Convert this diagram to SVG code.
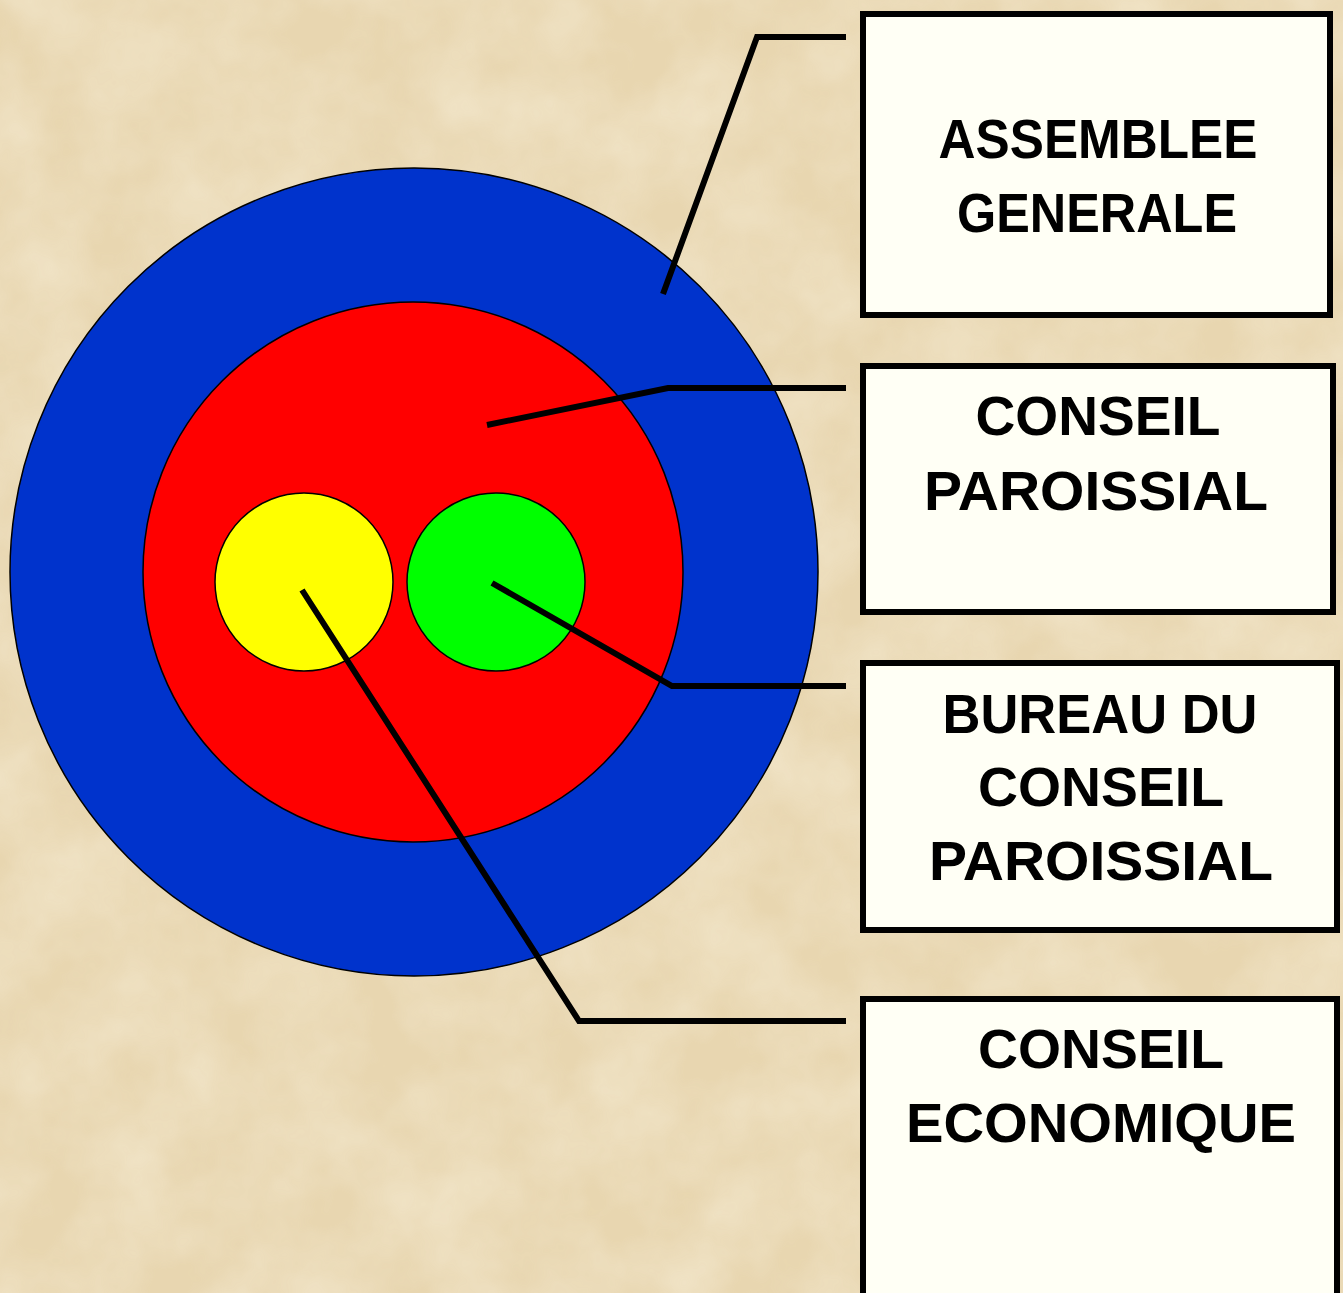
<svg xmlns="http://www.w3.org/2000/svg" width="1343" height="1293" viewBox="0 0 1343 1293">
<defs>
<style>
.box{fill:#FFFFF5;stroke:#000;stroke-width:6}
.lbl{font-family:"Liberation Sans","DejaVu Sans",sans-serif;font-weight:bold;font-size:55px;fill:#000;text-anchor:middle}
.con{fill:none;stroke:#000;stroke-width:6}
.ring{stroke:#000;stroke-width:1.5}
</style>
<filter id="paper" x="0" y="0" width="100%" height="100%">
<feTurbulence type="fractalNoise" baseFrequency="0.012" numOctaves="4" seed="7"/>
<feColorMatrix type="matrix" values="0 0 0 0 0.98  0 0 0 0 0.93  0 0 0 0 0.80  0 0 0 0.9 -0.25"/>
</filter>
</defs>
<rect width="1343" height="1293" fill="#E8D6B0"/>
<rect width="1343" height="1293" filter="url(#paper)" opacity="0.7"/>

<g id="target">
<circle class="ring" cx="414" cy="572" r="404" fill="#0033CC"/>
<circle class="ring" cx="413" cy="572" r="270" fill="#FF0000"/>
<circle class="ring" cx="304" cy="582" r="89" fill="#FFFF00"/>
<circle class="ring" cx="496" cy="582" r="89" fill="#00FF00"/>
</g>

<g id="connectors">
<polyline class="con" points="663,294 757,37 846,37"/>
<polyline class="con" points="487,425 668,388 846,388"/>
<polyline class="con" points="492,583 672,686 846,686"/>
<polyline class="con" points="302,590 579,1021 846,1021"/>
</g>

<g id="assemblee-generale">
<rect class="box" x="863" y="14" width="467" height="301"/>
<text class="lbl" x="1098" y="158" textLength="319" lengthAdjust="spacingAndGlyphs">ASSEMBLEE</text>
<text class="lbl" x="1097" y="232" textLength="280" lengthAdjust="spacingAndGlyphs">GENERALE</text>
</g>

<g id="conseil-paroissial">
<rect class="box" x="863" y="366" width="470" height="246"/>
<text class="lbl" x="1098" y="435" textLength="245" lengthAdjust="spacingAndGlyphs">CONSEIL</text>
<text class="lbl" x="1096" y="510" textLength="344" lengthAdjust="spacingAndGlyphs">PAROISSIAL</text>
</g>

<g id="bureau-conseil-paroissial">
<rect class="box" x="863" y="663" width="474" height="267"/>
<text class="lbl" x="1100" y="733" textLength="315" lengthAdjust="spacingAndGlyphs">BUREAU DU</text>
<text class="lbl" x="1101" y="806" textLength="246" lengthAdjust="spacingAndGlyphs">CONSEIL</text>
<text class="lbl" x="1101" y="880" textLength="344" lengthAdjust="spacingAndGlyphs">PAROISSIAL</text>
</g>

<g id="conseil-economique">
<rect class="box" x="863" y="999" width="474" height="320"/>
<text class="lbl" x="1101" y="1068" textLength="246" lengthAdjust="spacingAndGlyphs">CONSEIL</text>
<text class="lbl" x="1101" y="1142" textLength="390" lengthAdjust="spacingAndGlyphs">ECONOMIQUE</text>
</g>
</svg>
